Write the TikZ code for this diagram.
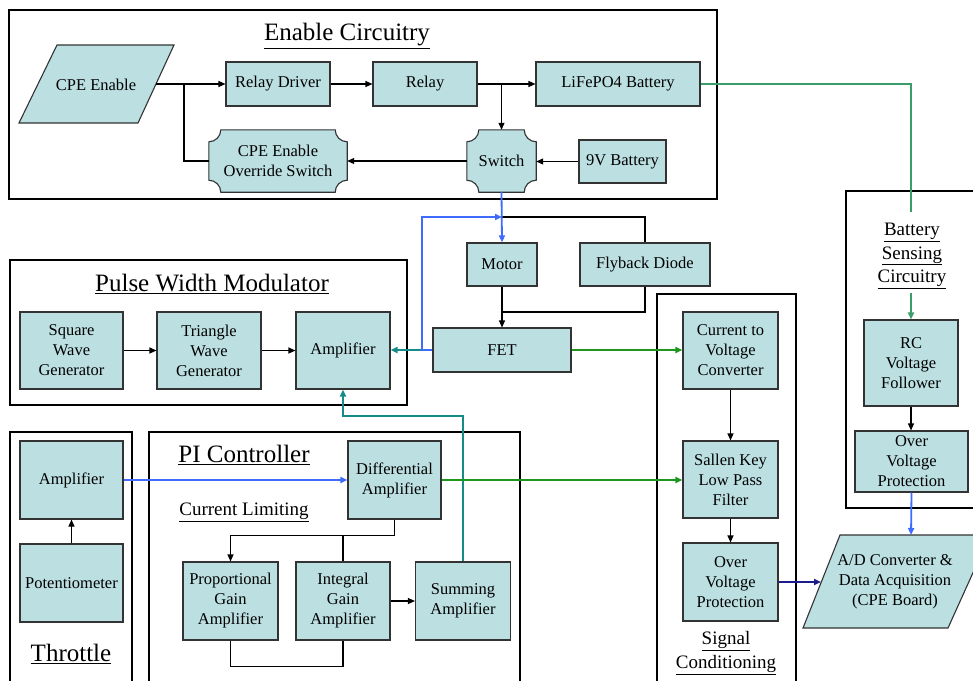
\documentclass[tikz,border=0pt]{standalone}
\usepackage{fontspec}
\setmainfont{Liberation Serif}
\usetikzlibrary{arrows.meta,calc}
\definecolor{boxfill}{HTML}{BCDFE2}
\definecolor{cblue}{HTML}{3F6BFF}
\definecolor{cgreen}{HTML}{1E961E}
\definecolor{csea}{HTML}{3A9E6A}
\definecolor{cteal}{HTML}{178A8A}
\definecolor{cnavy}{HTML}{1C1C8C}
\pgfdeclarelayer{bg}
\pgfsetlayers{bg,main}
\tikzset{
  blk/.style={draw=black!80, fill=boxfill, line width=1.1pt, align=center, inner sep=0pt, font=\fontsize{16.5}{20}\selectfont},
  txt/.style={align=center, inner sep=0pt, font=\fontsize{16.5}{20}\selectfont},
  shp/.style={draw=black!80, fill=boxfill, line width=1.1pt},
  grp/.style={draw=black, line width=2.6pt},
  ttl/.style={font=\fontsize{25}{28}\selectfont, inner sep=0pt},
  sttl/.style={font=\fontsize{19}{23.5}\selectfont, inner sep=0pt, align=center},
  con/.style={draw=black, line width=1.1pt},
  tip/.style={-{Triangle[length=7pt,width=6pt]}},
  bcon/.style={draw=cblue, line width=1.8pt},
  gcon/.style={draw=cgreen, line width=2pt},
  scon/.style={draw=csea, line width=2pt},
  tcon/.style={draw=cteal, line width=2pt},
  ncon/.style={draw=cnavy, line width=2pt},
}
\newcommand{\plaq}[2]{%
  \begin{pgfonlayer}{bg}
  \draw[shp] ($(#1.north west)+(#2,0)$) -- ($(#1.north east)+(-#2,0)$)
    arc[start angle=180,end angle=270,radius=#2pt]
    -- ($(#1.south east)+(0,-#2)$)
    arc[start angle=90,end angle=180,radius=#2pt]
    -- ($(#1.south west)+(#2,0)$)
    arc[start angle=0,end angle=90,radius=#2pt]
    -- ($(#1.north west)+(0,#2)$)
    arc[start angle=270,end angle=360,radius=#2pt] -- cycle;
  \end{pgfonlayer}}
\begin{document}
\begin{tikzpicture}[x=1pt,y=-1pt]
\useasboundingbox (0,0) rectangle (973,680);
\begin{pgfonlayer}{bg}
\fill[white] (0,0) rectangle (973,680);
\end{pgfonlayer}

% group boxes
\draw[grp] (9,10) rectangle (717,199);
\draw[grp] (10,260) rectangle (407,405);
\draw[grp] (10,432) rectangle (132,695);
\draw[grp] (149,432) rectangle (520,695);
\draw[grp] (657,294) rectangle (796,695);
\draw[grp] (846,191) rectangle (995,508);

% titles
\node[ttl] (tEn) at (347,36) {\underline{Enable Circuitry}};
\node[ttl] (tPwm) at (212,284) {\underline{Pulse Width Modulator}};
\node[ttl] (tThr) at (71,654) {\underline{Throttle}};
\node[ttl] (tPi) at (244,455) {\underline{PI Controller}};
\node[sttl] (tCl) at (244,512) {\underline{Current Limiting}};
\node[sttl] (tBs) at (912,256) {\underline{Battery}\\\underline{Sensing}\\\underline{Circuitry}};
\node[sttl] (tSc) at (726,653) {\underline{Signal}\\\underline{Conditioning}};

% enable circuitry
\draw[shp] (57,45) -- (174,45) -- (138,123) -- (19,123) -- cycle;
\node[txt] (cpe) at (96,85) {CPE Enable};
\coordinate (cpeE) at (156,84);
\node[blk, minimum width=104pt, minimum height=44pt] (rd) at (278,84) {Relay Driver};
\node[blk, minimum width=104pt, minimum height=44pt] (relay) at (425,84) {Relay};
\node[blk, minimum width=164pt, minimum height=44pt] (lifepo) at (618,84) {LiFePO4 Battery};
\node[txt, minimum width=138pt, minimum height=62pt] (override) at (278,161) {CPE Enable\\Override Switch};
\plaq{override}{12}
\node[txt, minimum width=69pt, minimum height=62pt] (switch) at (501.5,161) {Switch};
\plaq{switch}{12}
\node[blk, minimum width=87pt, minimum height=43pt] (v9) at (622.5,161.5) {9V Battery};

% motor area
\node[blk, minimum width=70pt, minimum height=43pt] (motor) at (502,264.5) {Motor};
\node[blk, minimum width=130pt, minimum height=43pt] (flyback) at (645,264.5) {Flyback Diode};
\node[blk, minimum width=138pt, minimum height=44pt] (fet) at (502,350) {FET};

% PWM
\node[blk, minimum width=103pt, minimum height=77pt] (sq) at (71.5,350.5) {Square\\Wave\\Generator};
\node[blk, minimum width=104pt, minimum height=77pt] (tri) at (209,350.5) {Triangle\\Wave\\Generator};
\node[blk, minimum width=94pt, minimum height=77pt] (pamp) at (343,350.5) {Amplifier};

% throttle
\node[blk, minimum width=103pt, minimum height=78pt] (tamp) at (71.5,480) {Amplifier};
\node[blk, minimum width=103pt, minimum height=78pt] (pot) at (71.5,583) {Potentiometer};

% PI
\node[blk, minimum width=93pt, minimum height=78pt] (diff) at (394.5,480) {Differential\\Amplifier};
\node[blk, minimum width=95pt, minimum height=78pt] (prop) at (230.5,601) {Proportional\\Gain\\Amplifier};
\node[blk, minimum width=94pt, minimum height=78pt] (integ) at (343,601) {Integral\\Gain\\Amplifier};
\node[blk, minimum width=95pt, minimum height=78pt] (summ) at (463,601) {Summing\\Amplifier};

% signal conditioning
\node[blk, minimum width=95pt, minimum height=77pt] (ctv) at (730.5,350.5) {Current to\\Voltage\\Converter};
\node[blk, minimum width=95pt, minimum height=77pt] (sallen) at (730.5,479.5) {Sallen Key\\Low Pass\\Filter};
\node[blk, minimum width=95pt, minimum height=78pt] (ovp) at (730.5,582) {Over\\Voltage\\Protection};

% battery sensing
\node[blk, minimum width=94pt, minimum height=86pt] (rc) at (911,363) {RC\\Voltage\\Follower};
\node[blk, minimum width=113pt, minimum height=61pt] (ovp2) at (911.5,461.5) {Over\\Voltage\\Protection};

% A/D
\draw[shp] (840,535) -- (990,535) -- (948,628) -- (803,628) -- cycle;
\node[txt] (ad) at (895,582) {A/D Converter \&\\Data Acquisition\\(CPE Board)};
\coordinate (adT) at (911,535);
\coordinate (adL) at (821,582);

% enable connectors
\coordinate (b1) at (184,84);
\draw[con,tip] (cpeE) -- (rd.west);
\draw[con] (b1) |- (override.west);
\draw[con,tip] (rd.east) -- (relay.west);
\draw[con,tip] (relay.east) -- (lifepo.west);
\draw[con,tip] (switch.north |- relay.east) -- (switch.north);
\draw[con,tip] (v9.west) -- (v9.west -| switch.east);
\draw[con,tip] (switch.west) -- (switch.west -| override.east);

% battery sensing connectors
\coordinate (bsT) at (911,212);
\coordinate (bsB) at (911,293);
\draw[scon] (lifepo.east) -| (bsT);
\draw[scon,tip] (bsB) -- (rc.north);
\draw[con,tip] (rc.south) -- (rc.south |- ovp2.north);
\draw[bcon,tip] (ovp2.south) -- (adT);

% motor connectors
\coordinate (j) at (502,217);
\coordinate (m) at (502,312);
\coordinate (fl) at (422,350);
\draw[con] (j) -| (flyback.north);
\draw[con] (flyback.south) |- (m);
\draw[con,tip] (motor.south) -- (fet.north);
\draw[tcon,tip] (fet.west) -- (fet.west -| pamp.east);
\draw[bcon,tip] (switch.south) -- (motor.north);
\draw[bcon,tip] (fet.west) -- (fl) |- (j);
\draw[gcon,tip] (fet.east) -- (fet.east -| ctv.west);

% PWM connectors
\draw[con,tip] (sq.east) -- (tri.west);
\draw[con,tip] (tri.east) -- (pamp.west);
\draw[tcon,tip] (summ.north) |- ($(pamp.south)+(0,26.5)$) -- (pamp.south);

% throttle / PI connectors
\draw[con,tip] (pot.north) -- (tamp.south);
\draw[bcon,tip] (tamp.east) -- (tamp.east -| diff.west);
\draw[gcon,tip] (diff.east) -- (diff.east -| sallen.west);
\coordinate (dj) at ($(diff.south)+(0,16)$);
\draw[con,tip] (diff.south) -- (dj) -| (prop.north);
\draw[con] (integ.north |- dj) -- (integ.north);
\draw[con,tip] (integ.east) -- (integ.east -| summ.west);
\draw[con] (prop.south) -- ++(0,26) -| (integ.south);

% signal conditioning connectors
\draw[con,tip] (ctv.south) -- (sallen.north);
\draw[con,tip] (sallen.south) -- (ovp.north);
\draw[ncon,tip] (ovp.east) -- (adL);
\end{tikzpicture}
\end{document}
